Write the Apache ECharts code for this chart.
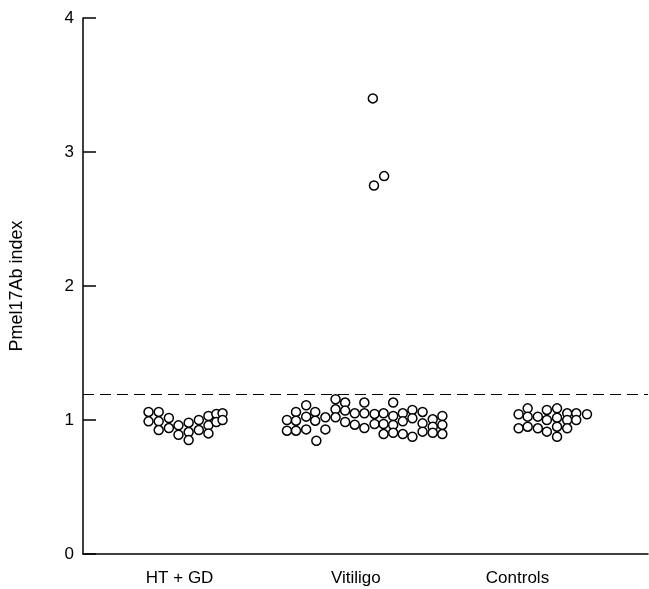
<!DOCTYPE html>
<html><head><meta charset="utf-8">
<script src="https://cdn.jsdelivr.net/npm/echarts@6/dist/echarts.min.js"></script>
<style>html,body{margin:0;padding:0;background:#fff}#c{width:649px;height:589px}</style>
</head><body><div id="c"></div>
<script>
const categories = ['HT + GD', 'Vitiligo', 'Controls'];
const categoryPositions = [17.1, 48.3, 76.9];
const yTicks = [0, 1, 2, 3, 4];
const cutoff = 1.19;

const htgd = [
  [11.6,1.06],[11.6,0.99],[13.4,1.06],[13.4,0.99],[13.4,0.925],
  [15.2,1.015],[15.2,0.94],[16.9,0.96],[16.9,0.89],
  [18.7,0.98],[18.7,0.91],[18.7,0.85],[20.5,1.0],[20.5,0.925],
  [22.2,1.03],[22.2,0.96],[22.2,0.90],[23.6,1.045],[23.6,0.985],
  [24.7,1.05],[24.7,1.0]
];
const vitiligo = [
  [36.1,1.0],[36.1,0.92],[37.7,1.06],[37.7,0.995],[37.7,0.92],
  [39.5,1.11],[39.5,1.025],[39.5,0.93],[41.1,1.06],[41.1,0.995],[41.3,0.845],
  [42.9,1.02],[42.9,0.93],[44.7,1.155],[44.7,1.08],[44.7,1.02],
  [46.4,1.13],[46.4,1.07],[46.4,0.985],[48.1,1.05],[48.1,0.965],
  [49.8,1.13],[49.8,1.05],[49.8,0.94],[51.6,1.045],[51.6,0.97],
  [53.2,1.05],[53.2,0.97],[53.2,0.895],
  [54.9,1.13],[54.9,1.03],[54.9,0.963],[54.9,0.905],
  [56.6,1.05],[56.6,0.99],[56.6,0.895],
  [58.3,1.075],[58.3,1.013],[58.3,0.875],
  [60.1,1.06],[60.1,0.975],[60.1,0.913],
  [61.9,1.005],[61.9,0.95],[61.9,0.905],
  [63.6,1.03],[63.6,0.963],[63.6,0.895],
  [51.3,3.40],[51.5,2.75],[53.3,2.82]
];
const controls = [
  [77.1,1.043],[77.1,0.938],[78.7,1.087],[78.7,1.025],[78.7,0.95],
  [80.5,1.025],[80.5,0.938],[82.1,1.075],[82.1,1.0],[82.1,0.913],
  [83.9,1.087],[83.9,1.017],[83.9,0.95],[83.9,0.875],
  [85.7,1.05],[85.7,1.0],[85.7,0.938],[87.3,1.05],[87.3,1.0],[89.2,1.043]
];

const font = 'Liberation Sans, Arial, sans-serif';
const sym = {
  type: 'scatter', symbol: 'circle', symbolSize: 9,
  itemStyle: { color: '#fff', borderColor: '#000', borderWidth: 1.5, opacity: 1 },
  emphasis: { disabled: true }, animation: false
};

const chart = echarts.init(document.getElementById('c'), null, { renderer: 'canvas' });
chart.setOption({
  backgroundColor: '#fff',
  animation: false,
  grid: { left: 81, right: 1, top: 18, bottom: 35, containLabel: false },
  xAxis: {
    type: 'value', min: 0, max: 100,
    axisLine: { show: true, onZero: false, lineStyle: { color: '#000', width: 1.5 } },
    axisTick: { show: false },
    splitLine: { show: false },
    axisLabel: {
      customValues: categoryPositions,
      formatter: function (v) {
        const i = categoryPositions.findIndex(p => Math.abs(p - v) < 1e-6);
        return i >= 0 ? categories[i] : '';
      },
      margin: 16, color: '#000', fontSize: 17, fontFamily: font
    }
  },
  yAxis: {
    type: 'value', min: 0, max: 4, interval: 1,
    name: 'Pmel17Ab index', nameLocation: 'middle', nameGap: 57,
    nameTextStyle: { color: '#000', fontSize: 18, fontFamily: font },
    axisLine: { show: true, lineStyle: { color: '#000', width: 1.5 } },
    axisTick: { show: true, inside: true, length: 13, lineStyle: { color: '#000', width: 1.5 } },
    splitLine: { show: false },
    axisLabel: {
      formatter: function (v) { return yTicks.includes(v) ? String(v) : ''; },
      margin: 9, color: '#000', fontSize: 17, fontFamily: font
    }
  },
  series: [
    Object.assign({ name: categories[0], data: htgd }, sym),
    Object.assign({ name: categories[1], data: vitiligo,
      markLine: {
        silent: true, symbol: ['none', 'none'], animation: false,
        label: { show: false },
        lineStyle: { color: '#000', type: [11, 6], width: 1 },
        data: [{ yAxis: cutoff }]
      } }, sym),
    Object.assign({ name: categories[2], data: controls }, sym)
  ]
});
</script></body></html>
